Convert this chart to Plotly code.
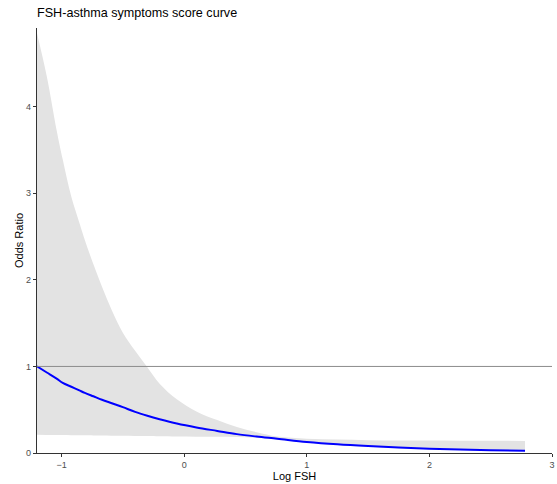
import plotly.graph_objects as go

log_fsh = [-1.2, -1.12, -1.04, -0.99, -0.92, -0.85, -0.81, -0.74, -0.67, -0.59, -0.5, -0.4,
           -0.3, -0.2, -0.06, 0.1, 0.27, 0.43, 0.59, 0.76, 1.0, 1.25, 1.5, 1.75, 2.0,
           2.25, 2.5, 2.78]
odds_ratio = [1.00, 0.93, 0.86, 0.81, 0.765, 0.72, 0.695, 0.655, 0.615, 0.575, 0.53, 0.475,
              0.43, 0.39, 0.34, 0.295, 0.255, 0.218, 0.19, 0.165, 0.128, 0.10, 0.08, 0.064,
              0.05, 0.04, 0.032, 0.025]
upper_ci = [4.85, 4.35, 3.73, 3.39, 2.96, 2.64, 2.46, 2.18, 1.92, 1.65, 1.39, 1.18,
            0.99, 0.80, 0.62, 0.48, 0.38, 0.30, 0.24, 0.19, 0.165, 0.155, 0.148, 0.145,
            0.143, 0.142, 0.141, 0.14]
lower_ci = [0.21, 0.209, 0.208, 0.207, 0.206, 0.205, 0.204, 0.203, 0.202, 0.2, 0.199, 0.197,
            0.195, 0.193, 0.191, 0.189, 0.187, 0.185, 0.176, 0.155, 0.118, 0.092, 0.072,
            0.056, 0.043, 0.034, 0.026, 0.02]
x_ticks = [-1, 0, 1, 2, 3]
y_ticks = [0, 1, 2, 3, 4]
ref_line = 1

fig = go.Figure()
fig.add_trace(go.Scatter(x=log_fsh, y=lower_ci, mode="lines",
                         line=dict(width=0, shape="spline", smoothing=1),
                         showlegend=False, hoverinfo="skip"))
fig.add_trace(go.Scatter(x=log_fsh, y=upper_ci, mode="lines",
                         line=dict(width=0, shape="spline", smoothing=1),
                         fill="tonexty", fillcolor="#e3e3e3", showlegend=False, hoverinfo="skip"))
fig.add_hline(y=ref_line, line=dict(color="#8c8c8c", width=1))
fig.add_trace(go.Scatter(x=log_fsh, y=odds_ratio, mode="lines",
                         line=dict(color="#0000ff", width=2, shape="spline"), showlegend=False))

axis_common = dict(showline=True, linecolor="#333333", linewidth=1.2, ticks="outside",
                   ticklen=3, tickcolor="#333333", showgrid=False, zeroline=False,
                   tickfont=dict(size=9, color="#4d4d4d"))
fig.update_xaxes(range=[-1.2, 3.0], tickvals=x_ticks, **axis_common,
                 title=dict(text="Log FSH", font=dict(size=11, color="black"), standoff=1))
fig.update_yaxes(range=[0, 4.91], tickvals=y_ticks, **axis_common,
                 title=dict(text="Odds Ratio", font=dict(size=11, color="black"), standoff=0))

fig.update_layout(
    width=557, height=484,
    margin=dict(l=37, r=5, t=28, b=31, autoexpand=False),
    plot_bgcolor="white", paper_bgcolor="white",
    font=dict(family="Liberation Sans, Arial, sans-serif"),
    title=dict(text="FSH-asthma symptoms score curve", font=dict(size=12.6, color="black"),
               x=37/557, xanchor="left", y=1 - 13/484, yanchor="middle"),
)
fig.write_html("out.html")
